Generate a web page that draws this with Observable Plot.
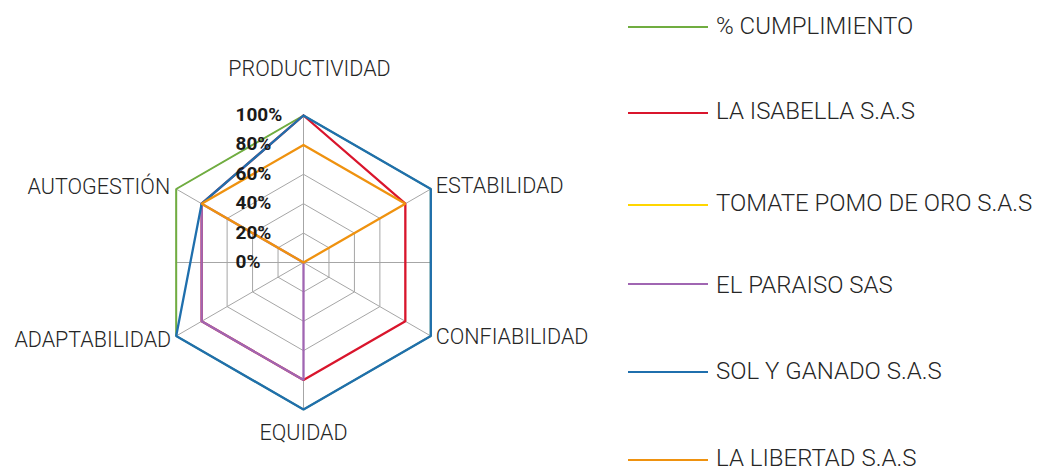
<!DOCTYPE html>
<html>
<head>
<meta charset="utf-8">
<script src="https://cdn.jsdelivr.net/npm/d3@7"></script>
<script src="https://cdn.jsdelivr.net/npm/@observablehq/plot@0.6"></script>
<style>
  html, body { margin: 0; padding: 0; background: #fff; }
  #wrap { position: relative; width: 1043px; height: 469px; overflow: hidden; font-family: Roboto, "Noto Sans", sans-serif; }
  #chart { position: absolute; left: 0; top: 0; }
  .sw { position: absolute; left: 628px; width: 80px; height: 0; }
  .lt { position: absolute; left: 716px; font-weight: 300; font-size: 24px; line-height: 24px; height: 24px; color: #262626; white-space: nowrap; }
</style>
</head>
<body>
<div id="wrap"><div id="chart"></div></div>
<script>
// ---- data ----
const axes = ["PRODUCTIVIDAD", "ESTABILIDAD", "CONFIABILIDAD", "EQUIDAD", "ADAPTABILIDAD", "AUTOGESTIÓN"];
const seriesNames = ["% CUMPLIMIENTO", "LA ISABELLA S.A.S", "TOMATE POMO DE ORO S.A.S", "EL PARAISO SAS", "SOL Y GANADO S.A.S", "LA LIBERTAD S.A.S"];
const cumplimiento = [100, 100, 100, 100, 100, 100];
const laIsabella   = [100, 80, 80, 80, 80, 80];
const tomatePomo   = [0, 0, 0, 0, 0, 0];
const elParaiso    = [0, 0, 0, 80, 80, 80];
const solYGanado   = [100, 100, 100, 100, 100, 80];
const laLibertad   = [80, 80, 0, 0, 0, 80];
const seriesColors = ["#70ad40", "#d9152c", "#ffd600", "#a066b2", "#1f6fad", "#ef920f"];
const seriesWidths = [2.0, 2.3, 2.3, 2.3, 2.3, 2.3];
const tickValues = [0, 20, 40, 60, 80, 100];
const tickLabels = ["0%", "20%", "40%", "60%", "80%", "100%"];
const legendLineY = [27, 113, 205, 284, 372, 460];
const legendTextY = [25.5, 111, 203, 285, 371, 458];

const allValues = [cumplimiento, laIsabella, tomatePomo, elParaiso, solYGanado, laLibertad];

// ---- geometry helpers ----
const angle = i => Math.PI / 2 - i * Math.PI / 3;
const px = (i, v) => (v / 100) * Math.cos(angle(i));
const py = (i, v) => (v / 100) * Math.sin(angle(i));

const gridLevels = [20, 40, 60, 80, 100];
const gridPts = gridLevels.flatMap(lv =>
  d3.range(axes.length + 1).map(k => ({level: lv, x: px(k % axes.length, lv), y: py(k % axes.length, lv)})));
const spokes = axes.map((a, i) => ({x1: 0, y1: 0, x2: px(i, 100), y2: py(i, 100)}));
const seriesPts = seriesNames.flatMap((s, si) =>
  d3.range(axes.length + 1).map(k => {
    const i = k % axes.length;
    return {series: s, si, x: px(i, allValues[si][i]), y: py(i, allValues[si][i])};
  }));
const labelPts = axes.map((a, i) => ({name: a, i, x: px(i, 100), y: py(i, 100)}));
const tickPts = tickValues.map((t, k) => ({label: tickLabels[k], x: 0, y: t / 100}));

const cx = 303, cy = 262, R = 147;
const font = "Roboto, 'Noto Sans', sans-serif";
const labelStyle = {x: "x", y: "y", text: "name", fontSize: 21.5, fontWeight: 300, fill: "#262626", fontFamily: font};

const marks = [
  Plot.ruleY([0], {x1: px(4, 100), x2: px(1, 100), stroke: "#a6a6a6", strokeWidth: 1}),
  Plot.line(gridPts, {x: "x", y: "y", z: "level", stroke: "#a6a6a6", strokeWidth: 1}),
  Plot.link(spokes, {x1: "x1", y1: "y1", x2: "x2", y2: "y2", stroke: "#a6a6a6", strokeWidth: 1}),
  ...seriesNames.map((s, si) =>
    Plot.line(seriesPts.filter(d => d.si === si), {x: "x", y: "y", stroke: seriesColors[si], strokeWidth: seriesWidths[si], strokeLinejoin: "miter"})),
  Plot.text(tickPts, {x: "x", y: "y", text: "label", textAnchor: "start", dx: -68, dy: -0.5, fontWeight: "bold", fontSize: 19, fill: "#1a1a1a", fontFamily: font}),
  Plot.text(labelPts.filter(d => d.i === 0), {...labelStyle, textAnchor: "middle", dx: 6, dy: -46}),
  Plot.text(labelPts.filter(d => d.i === 3), {...labelStyle, textAnchor: "middle", dy: 24}),
  Plot.text(labelPts.filter(d => d.i === 1), {...labelStyle, textAnchor: "start", dx: 5, dy: -3}),
  Plot.text(labelPts.filter(d => d.i === 2), {...labelStyle, textAnchor: "start", dx: 5, dy: 1.5}),
  Plot.text(labelPts.filter(d => d.i === 4), {...labelStyle, textAnchor: "end", dx: -5, dy: 4.5}),
  Plot.text(labelPts.filter(d => d.i === 5), {...labelStyle, textAnchor: "end", dx: -6, dy: -1.5})
];

const chart = Plot.plot({
  width: 620,
  height: 469,
  margin: 0,
  style: {background: "transparent", overflow: "visible"},
  x: {type: "linear", domain: [-1, 1], range: [cx - R, cx + R], axis: null},
  y: {type: "linear", domain: [-1, 1], range: [cy + R, cy - R], axis: null},
  marks
});
document.getElementById("chart").appendChild(chart);

// legend
const wrap = document.getElementById("wrap");
seriesNames.forEach((s, si) => {
  const sw = document.createElement("div");
  sw.className = "sw";
  sw.style.top = (legendLineY[si] - 1.25) + "px";
  sw.style.borderTop = "2.5px solid " + seriesColors[si];
  const tx = document.createElement("div");
  tx.className = "lt";
  tx.style.top = (legendTextY[si] - 12) + "px";
  tx.textContent = s;
  wrap.appendChild(sw);
  wrap.appendChild(tx);
});
</script>
</body>
</html>
